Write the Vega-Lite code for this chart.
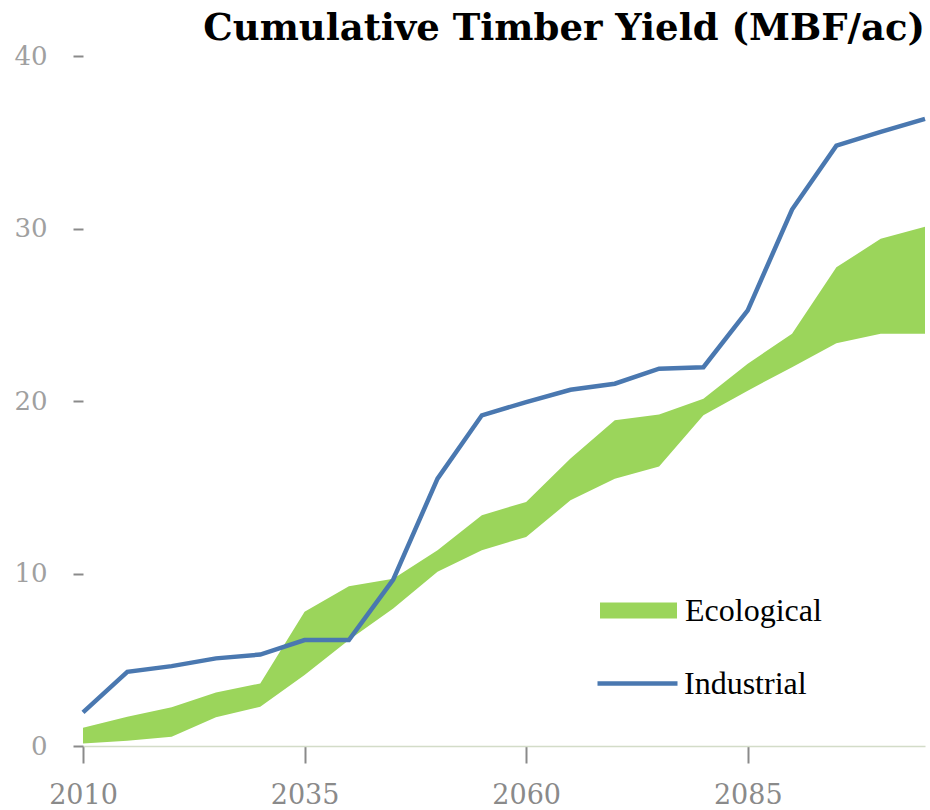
{
  "$schema": "https://vega.github.io/schema/vega-lite/v6.json",
  "autosize": "none",
  "width": 842,
  "height": 690,
  "padding": {"left": 83, "top": 56, "right": 5, "bottom": 64},
  "background": "white",
  "title": {
    "text": "Cumulative Timber Yield (MBF/ac)",
    "anchor": "end",
    "frame": "group",
    "font": "DejaVu Serif",
    "fontWeight": "bold",
    "fontSize": 37,
    "color": "#000000",
    "baseline": "alphabetic",
    "offset": -34
  },
  "config": {
    "view": {"stroke": null},
    "axis": {"grid": false}
  },
  "data": {
    "values": [
      {"year": 2010, "eco_low": 0.15, "eco_high": 1.06, "industrial": 1.95},
      {"year": 2015, "eco_low": 0.31, "eco_high": 1.7, "industrial": 4.3},
      {"year": 2020, "eco_low": 0.54, "eco_high": 2.24, "industrial": 4.63},
      {"year": 2025, "eco_low": 1.66, "eco_high": 3.1, "industrial": 5.08},
      {"year": 2030, "eco_low": 2.28, "eco_high": 3.63, "industrial": 5.3},
      {"year": 2035, "eco_low": 4.11, "eco_high": 7.78, "industrial": 6.14},
      {"year": 2040, "eco_low": 6.14, "eco_high": 9.26, "industrial": 6.14},
      {"year": 2045, "eco_low": 7.97, "eco_high": 9.7, "industrial": 9.65},
      {"year": 2050, "eco_low": 10.1, "eco_high": 11.35, "industrial": 15.5},
      {"year": 2055, "eco_low": 11.35, "eco_high": 13.38, "industrial": 19.17},
      {"year": 2060, "eco_low": 12.12, "eco_high": 14.15, "industrial": 19.94},
      {"year": 2065, "eco_low": 14.24, "eco_high": 16.66, "industrial": 20.65},
      {"year": 2070, "eco_low": 15.5, "eco_high": 18.88, "industrial": 21.0},
      {"year": 2075, "eco_low": 16.21, "eco_high": 19.22, "industrial": 21.87},
      {"year": 2080, "eco_low": 19.17, "eco_high": 20.13, "industrial": 21.96},
      {"year": 2085, "eco_low": 20.6, "eco_high": 22.16, "industrial": 25.25},
      {"year": 2090, "eco_low": 21.96, "eco_high": 23.9, "industrial": 31.1},
      {"year": 2095, "eco_low": 23.35, "eco_high": 27.75, "industrial": 34.8},
      {"year": 2100, "eco_low": 23.9, "eco_high": 29.4, "industrial": 35.6},
      {"year": 2105, "eco_low": 23.9, "eco_high": 30.1, "industrial": 36.35}
    ]
  },
  "encoding": {
    "x": {
      "field": "year",
      "type": "quantitative",
      "title": null,
      "scale": {"domain": [2010, 2105], "nice": false, "zero": false},
      "axis": {
        "values": [2010, 2035, 2060, 2085],
        "format": "d",
        "domainColor": "#d3dcc8",
        "domainWidth": 1.5,
        "tickColor": "#8a8a8a",
        "tickWidth": 2,
        "tickSize": 17,
        "labelFont": "DejaVu Serif",
        "labelFontSize": 27,
        "labelColor": "#8a8a8a",
        "labelPadding": 19,
        "labelFlush": false
      }
    }
  },
  "layer": [
    {
      "mark": {"type": "area", "opacity": 1},
      "encoding": {
        "y": {
          "field": "eco_low",
          "type": "quantitative",
          "title": null,
          "scale": {"domain": [0, 40], "nice": false},
          "axis": {
            "values": [0, 10, 20, 30, 40],
            "domain": false,
            "tickColor": "#8a8a8a",
            "tickWidth": 2,
            "tickSize": 10,
            "labelFont": "DejaVu Serif",
            "labelFontSize": 26,
            "labelColor": "#a0a0a0",
            "labelPadding": 26,
            "labelBaseline": "middle"
          }
        },
        "y2": {"field": "eco_high"},
        "fill": {
          "datum": "Ecological",
          "type": "nominal",
          "scale": {"domain": ["Ecological"], "range": ["#9bd55b"]},
          "legend": {
            "title": null,
            "orient": "none",
            "legendX": 517,
            "legendY": 516,
            "padding": 0,
            "symbolType": "M-1,-0.208H1V0.208H-1Z",
            "symbolSize": 5929,
            "symbolStrokeWidth": 0,
            "symbolOpacity": 1,
            "labelFont": "Liberation Serif",
            "labelFontSize": 32,
            "labelColor": "#000000",
            "labelOffset": 8
          }
        }
      }
    },
    {
      "mark": {"type": "line", "strokeWidth": 4.5},
      "encoding": {
        "y": {"field": "industrial", "type": "quantitative"},
        "stroke": {
          "datum": "Industrial",
          "type": "nominal",
          "scale": {"domain": ["Industrial"], "range": ["#4a78b0"]},
          "legend": {
            "title": null,
            "orient": "none",
            "legendX": 512,
            "legendY": 585,
            "padding": 0,
            "symbolType": "stroke",
            "symbolSize": 6400,
            "symbolStrokeWidth": 4.5,
            "labelFont": "Liberation Serif",
            "labelFontSize": 32,
            "labelColor": "#000000",
            "labelOffset": 4
          }
        }
      }
    }
  ]
}
